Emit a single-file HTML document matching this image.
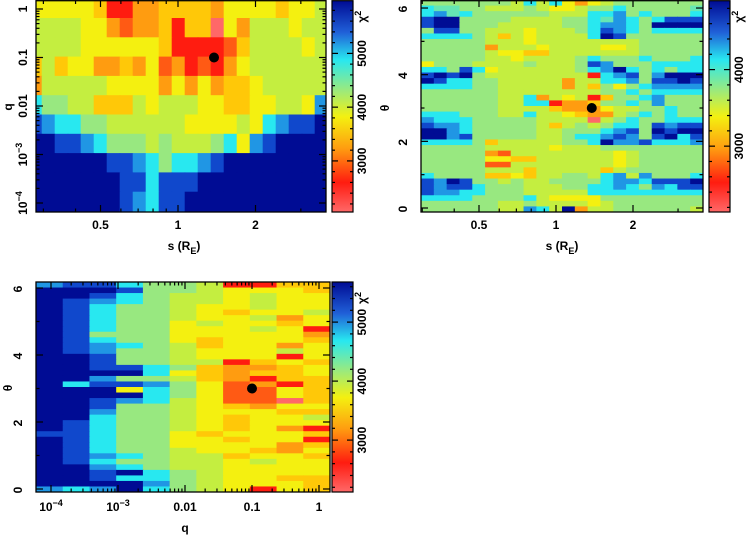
<!DOCTYPE html>
<html><head><meta charset="utf-8"><style>
html,body{margin:0;padding:0;background:#fff;width:754px;height:537px;overflow:hidden}
svg text{font-family:"Liberation Sans",sans-serif;font-weight:bold;font-size:12px;fill:#000}
</style></head><body>
<svg id="fig" width="754" height="537" viewBox="0 0 754 537">
<defs>
<linearGradient id="cmap" x1="0" y1="1" x2="0" y2="0">
<stop offset="0" stop-color="#ff6868"/><stop offset="0.14" stop-color="#ff1c10"/>
<stop offset="0.3" stop-color="#ff9c10"/><stop offset="0.45" stop-color="#f4f010"/>
<stop offset="0.58" stop-color="#98ea80"/><stop offset="0.72" stop-color="#28e8f0"/>
<stop offset="0.85" stop-color="#2060d8"/><stop offset="1" stop-color="#000c94"/>
</linearGradient>
<clipPath id="c1"><rect x="36" y="0" width="290" height="212"/></clipPath>
<clipPath id="c2"><rect x="421" y="0" width="282" height="212"/></clipPath>
<clipPath id="c3"><rect x="36" y="282" width="294" height="210"/></clipPath>
</defs>
<g id="p1" clip-path="url(#c1)"></g>
<g id="p2" clip-path="url(#c2)"></g>
<g id="p3" clip-path="url(#c3)"></g>
<g id="axes"></g>
</svg>
<script>
// colour levels: 0 = lowest chi^2 (light red) ... B = highest (dark blue)
const levelColors = {'0':'#ff6868','1':'#ff1c10','2':'#ff5a14','3':'#ff9c10','4':'#ffc808','5':'#f4f010','6':'#c4ee40','7':'#98e880','c':'#66e6b4','8':'#28e8f0','9':'#2096e4','A':'#1048cc','B':'#000c94'};
// Panel 1: rows = q bins (top = high q), cols = s bins
const p1Rows = [
"55555411334444355554556",
"66665532334144053666566",
"66665555554111124666656",
"46455334352312135666666",
"36666655553535344566666",
"87766444656665544556659",
"A9887766666655556589AAB",
"BBAA98777676667859ABBBB",
"BBBBBBAA987889ABBBBBBBB",
"BBBBBBBAA8AAABBBBBBBBBB",
"BBBBBBBA98AABBBBBBBBBBB"];
// Panel 2: rows = theta bins (top = 2pi), cols = s bins
const p2Rows = [
"7777777686853567777777","8cc776667655677877777c","89c8777777666889787778","ABB77776666778c9878AAA",
"ABB777666667789987BBBB","7AA77666566678A9878888","88887646566668BA777777","7777766656666666677777",
"7777736665666655677777","7777765544666666677777","7777766566667877787778","5777666676667A97778888",
"887A85666666789B878788","ABAB766666666189A79BBB","BA8877666663668897AABA","8888776666636475789999",
"7777776666666677878888","7777776683656147789777","7777776688133477879777","7777776666433356677877",
"8887776686654336787877","9888777776666067877888","A99877777646767887A9AA","BB9877777667778 9A7BABB".replace(' ',''),
"BB9A777776678 89A97AB8A".replace(' ',''),"8888746666677 8B99A8889".replace(' ',''),"7777766666566677777777","7777732666666665677777",
"7777755446666665677777","7777722666666665677777","7777766646666646777777","8777744546677689697778",
"A9BA77676677778998AAAB","A9AA8777666778898798AA","A998877766666888888888","8888777786555577777777",
"7777776676666567777777","77777766986B3667777776"];
// Panel 3: rows = theta bins (top = 2pi), cols = q bins
const p3Rows = [
"9AA87761144","BBBA7765554","BBA87665655","BA987665655","BA877655655","BA877654556","BA877655635","BA877565545",
"BA877555651","BA777555553","BA877545554","BA987645535","BA977655565","BBA77655515","BBA77661454","BBAA8743345",
"BBBB8543445","BB977643144","B8AA9752314","BBB58752254","BBBB8752254","BBA98652204","BBA77654355","BB977655544",
"BB877654556","BA877654555","BA877654531","AA877545554","BA877554551","BA877555534","BA877655435","BA987664554",
"BA877665655","BB987665555","BBAB8765555","BBA88765544","BBBB9765554","989B8765154"];
// best-fit points
const bestS = [1.38], bestQ = [0.1], bestTheta = [3.0];

const NS='http://www.w3.org/2000/svg';
function mk(tag,attrs,parent){const e=document.createElementNS(NS,tag);for(const k in attrs)e.setAttribute(k,attrs[k]);parent.appendChild(e);return e;}

// axis functions
const sX1 = s => 178 + 77.5*Math.log2(s);
const qY1 = q => 106 - 48.5*Math.log10(q/0.01);
const sX2 = s => 556 + 77*Math.log2(s);
const tY2 = t => 208 - 33.33*t;
const qX3 = q => 319 + 67*Math.log10(q);
const tY3 = t => 489 - 33.5*t;

function heat(gid,rows,x0,cw,y0,ch,name){
  const g=document.getElementById(gid);
  rows.forEach((row,r)=>{[...row].forEach((v,c)=>{
    const e=mk('rect',{x:(x0+c*cw).toFixed(2),y:(y0+r*ch).toFixed(2),width:(cw+0.6).toFixed(2),height:(ch+0.6).toFixed(2),fill:levelColors[v]||'#98e880'},g);
    
    
  });});
}
heat('p1',p1Rows,28.7,13,-1.3,19.3,'heatmap-cell');
heat('p2',p2Rows,421,282/22,0,212/38,'heatmap-cell');
heat('p3',p3Rows,36,294/11,282,210/38,'heatmap-cell');

const ax=document.getElementById('axes');
function frame(x,y,w,h,name){const e=mk('rect',{x:x,y:y,width:w,height:h,fill:'none',stroke:'#000','stroke-width':1.3},ax);}
function line(x1,y1,x2,y2){mk('line',{x1,y1,x2,y2,stroke:'#000','stroke-width':1.2},ax);}
function txt(x,y,s,rot,name,anchor){const e=mk('text',{x:x,y:y,'text-anchor':anchor||'middle'},ax);if(rot)e.setAttribute('transform',`rotate(${rot} ${x} ${y})`);e.innerHTML=s;return e;}

// Panel 1 axes
frame(36,0.7,290,211.3,'plot-frame-1');
[1,0.1,0.01,0.001,0.0001].forEach(q=>{const y=qY1(q);line(36,y,43,y);line(326,y,319,y);
  for(let k=2;k<10;k++){const yy=qY1(q*k);if(yy>0&&yy<212){line(36,yy,39.5,yy);line(326,yy,322.5,yy);}}});
const p1qLabels=['1','0.1','0.01','10<tspan dy="-5" font-size="9">−3</tspan>','10<tspan dy="-5" font-size="9">−4</tspan>'];
[1,0.1,0.01,0.001,0.0001].forEach((q,i)=>txt(27,qY1(q),p1qLabels[i],-90,'y-tick-label'));
[0.3,0.4,0.5,0.6,0.7,0.8,0.9,1,2,3].forEach(s=>{const x=sX1(s);const M=[0.5,1,2].includes(s);line(x,212,x,M?205:208.5);line(x,0.7,x,M?7:4);});
['0.5','1','2'].forEach(s=>txt(sX1(+s),229,s,0,'x-tick-label'));
txt(184,250,'s (R<tspan dy="4" font-size="9">E</tspan><tspan dy="-4">)</tspan>',0,'x-axis-title');
txt(12,107,'q',-90,'y-axis-title');
mk('circle',{cx:sX1(bestS[0]),cy:qY1(bestQ[0]),r:5,fill:'#000'},ax);

// Panel 2 axes
frame(421,0.7,282,211.3,'plot-frame-2');
[0,1,2,3,4,5,6].forEach(t=>{const y=tY2(t);const M=t%2==0;line(421,y,M?428:424.5,y);line(703,y,M?696:699.5,y);});
[0,2,4,6].forEach(t=>txt(407,tY2(t)+1,String(t),-90,'y-tick-label'));
[0.3,0.4,0.5,0.6,0.7,0.8,0.9,1,2,3].forEach(s=>{const x=sX2(s);const M=[0.5,1,2].includes(s);line(x,212,x,M?205:208.5);line(x,0.7,x,M?7:4);});
['0.5','1','2'].forEach(s=>txt(sX2(+s),229,s,0,'x-tick-label'));
txt(562,250,'s (R<tspan dy="4" font-size="9">E</tspan><tspan dy="-4">)</tspan>',0,'x-axis-title');
txt(389,108,'θ',-90,'y-axis-title');
mk('circle',{cx:sX2(bestS[0]),cy:tY2(bestTheta[0]),r:5,fill:'#000'},ax);

// Panel 3 axes
frame(36,282,294,210,'plot-frame-3');
[0,1,2,3,4,5,6].forEach(t=>{const y=tY3(t);const M=t%2==0;line(36,y,M?43:39.5,y);line(330,y,M?323:326.5,y);});
[0,2,4,6].forEach(t=>txt(22,tY3(t)+1,String(t),-90,'y-tick-label'));
[0.0001,0.001,0.01,0.1,1].forEach(q=>{const x=qX3(q);line(x,492,x,485);line(x,282,x,289);
  for(let k=2;k<10;k++){const xx=qX3(q*k);if(xx>36&&xx<330){line(xx,492,xx,488.5);line(xx,282,xx,285.5);}}});
const p3qLabels=['10<tspan dy="-5" font-size="9">−4</tspan>','10<tspan dy="-5" font-size="9">−3</tspan>','0.01','0.1','1'];
[0.0001,0.001,0.01,0.1,1].forEach((q,i)=>txt(qX3(q),511,p3qLabels[i],0,'x-tick-label'));
txt(185,532,'q',0,'x-axis-title');
txt(12,388,'θ',-90,'y-axis-title');
mk('circle',{cx:qX3(bestQ[0]),cy:tY3(bestTheta[0]),r:5,fill:'#000'},ax);

// colour bars
function cbar(x,y,h,vTop,vBot,ticks,name){
  const e=mk('rect',{x:x,y:y,width:21,height:h,fill:'url(#cmap)',stroke:'#000','stroke-width':1.2},ax);
  
  const vy=v=>y+h*(vTop-v)/(vTop-vBot);
  for(let v=Math.ceil(vBot/200)*200;v<=vTop;v+=200){const yy=vy(v);const M=v%1000==0;line(x+21,yy,x+21-(M?6:3),yy);line(x,yy,x+(M?6:3),yy);}
  ticks.forEach(v=>txt(x+34,vy(v),String(v),-90,'colorbar-tick-label'));
  txt(x+34,y+16,'χ<tspan dy="-5" font-size="9">2</tspan>',-90,'colorbar-title');
}
cbar(332,0.7,211.3,5980,2050,[3000,4000,5000],'colorbar-1');
cbar(709,0.7,211.3,4900,2140,[3000,4000],'colorbar-2');
cbar(332,282,210,5680,2120,[3000,4000,5000],'colorbar-3');
</script>
</body></html>
